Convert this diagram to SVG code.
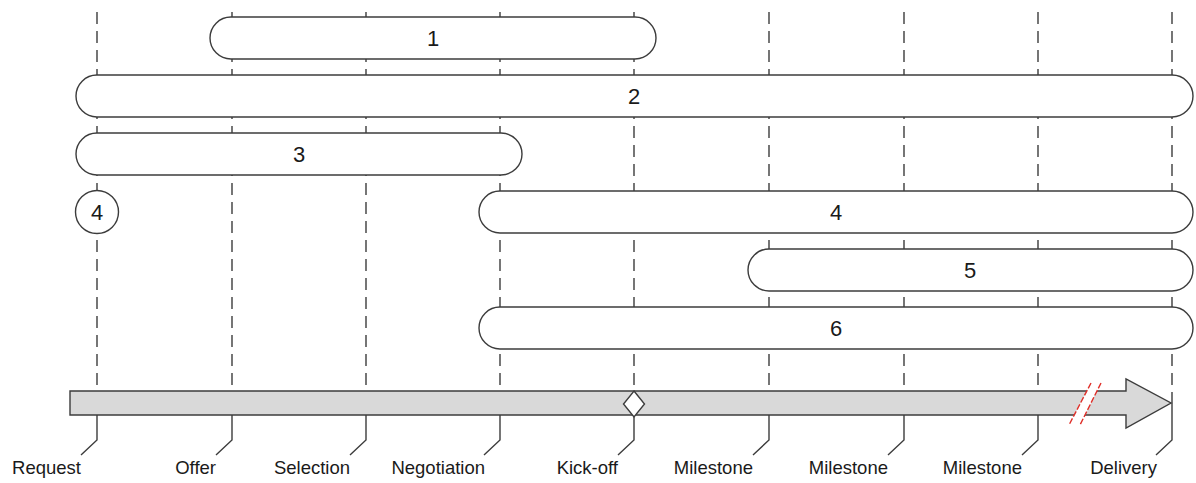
<svg xmlns="http://www.w3.org/2000/svg" width="1196" height="483" viewBox="0 0 1196 483">
  <style>
    .grid { stroke: #3c3c3c; stroke-width: 1.4; stroke-dasharray: 12 7; fill: none; }
    .lead { stroke: #3c3c3c; stroke-width: 1.4; fill: none; }
    .pill { fill: #ffffff; stroke: #3c3c3c; stroke-width: 1.4; }
    .num { font-family: "Liberation Sans", Arial, sans-serif; font-size: 22px; fill: #1a1a1a; text-anchor: middle; }
    .lbl { font-family: "Liberation Sans", Arial, sans-serif; font-size: 18.5px; fill: #1a1a1a; text-anchor: end; }
  </style>

  <!-- dashed phase guides and label leaders -->
  <g id="connectors">
    <path class="grid" d="M97,12V391 M232,12V391 M366,12V391 M500,12V391 M634,12V391 M769,12V391 M904,12V391 M1038,12V391 M1172,12V403"/>
    <path class="lead" d="M97,415V440L81,455 M232,415V440L216,455 M366,415V440L350,455 M500,415V440L484,455 M634,417V440L618,455 M769,415V440L753,455 M904,415V440L888,455 M1038,415V440L1022,455 M1172,403V440L1156,455"/>
  </g>

  <!-- bars -->
  <g id="bar-1"><rect class="pill" x="210" y="17" width="446" height="42" rx="21"/><text class="num" x="433" y="46">1</text></g>
  <g id="bar-2"><rect class="pill" x="76" y="75" width="1117" height="42" rx="21"/><text class="num" x="634" y="104">2</text></g>
  <g id="bar-3"><rect class="pill" x="76" y="133" width="446" height="42" rx="21"/><text class="num" x="299" y="162">3</text></g>
  <g id="point-4"><circle class="pill" cx="97" cy="212" r="21.5"/><text class="num" x="97" y="220">4</text></g>
  <g id="bar-4"><rect class="pill" x="479" y="191" width="714" height="42" rx="21"/><text class="num" x="836" y="220">4</text></g>
  <g id="bar-5"><rect class="pill" x="748" y="249" width="445" height="42" rx="21"/><text class="num" x="970" y="278">5</text></g>
  <g id="bar-6"><rect class="pill" x="479" y="307" width="714" height="42" rx="21"/><text class="num" x="836" y="336">6</text></g>

  <!-- timeline arrow -->
  <g id="timeline">
    <polygon points="70,391 1126,391 1126,379 1171,403 1126,428 1126,415 70,415" fill="#d9d9d9" stroke="#3c3c3c" stroke-width="1.4"/>
    <polygon points="1091,383 1101,383 1080,425 1069,425" fill="#ffffff"/>
    <path d="M1091,383L1069,425 M1101,383L1080,425" stroke="#e0302a" stroke-width="1.4" stroke-dasharray="6 2" fill="none"/>
    <polygon id="kickoff" points="634,391 644.5,404 634,417 623.5,404" fill="#ffffff" stroke="#3c3c3c" stroke-width="1.4"/>
  </g>

  <!-- phase labels -->
  <g id="labels">
    <text class="lbl" x="81" y="474">Request</text>
    <text class="lbl" x="216" y="474">Offer</text>
    <text class="lbl" x="350" y="474">Selection</text>
    <text class="lbl" x="485" y="474">Negotiation</text>
    <text class="lbl" x="618" y="474">Kick-off</text>
    <text class="lbl" x="753" y="474">Milestone</text>
    <text class="lbl" x="888" y="474">Milestone</text>
    <text class="lbl" x="1022" y="474">Milestone</text>
    <text class="lbl" x="1157" y="474">Delivery</text>
  </g>
</svg>
